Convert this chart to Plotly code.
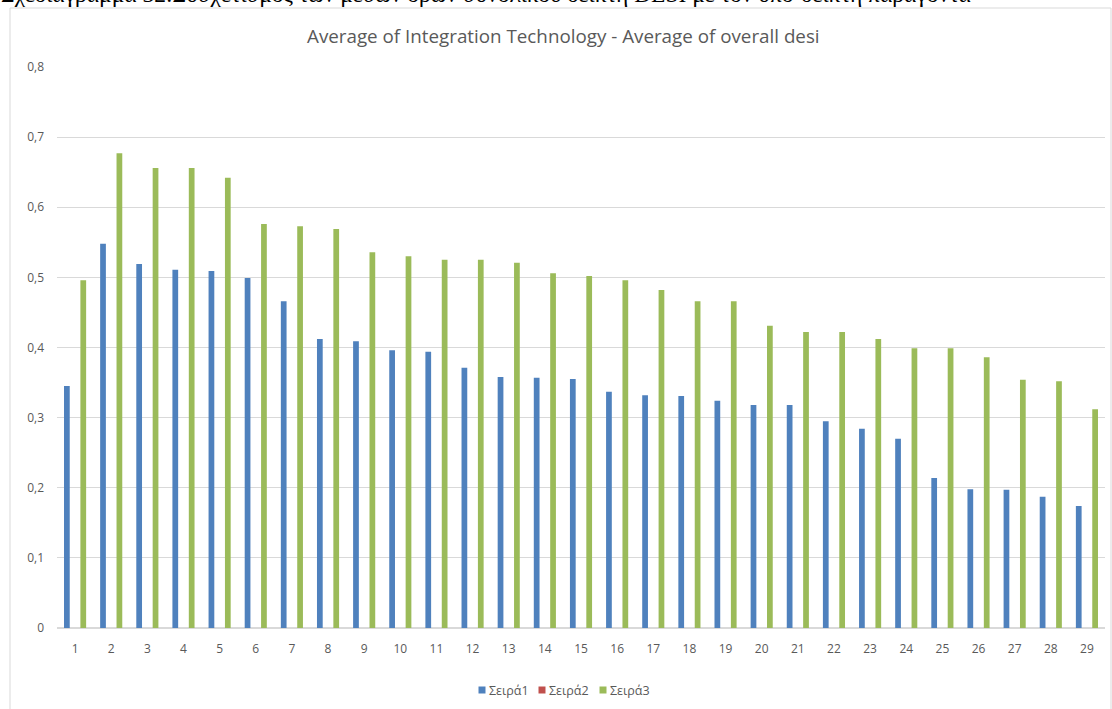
import plotly.graph_objects as go

categories = [str(i) for i in range(1, 30)]
series1 = [0.345, 0.548, 0.519, 0.511, 0.509, 0.499, 0.466, 0.412, 0.409, 0.396,
           0.394, 0.371, 0.358, 0.357, 0.355, 0.337, 0.332, 0.331, 0.324, 0.318,
           0.318, 0.295, 0.284, 0.270, 0.214, 0.198, 0.197, 0.187, 0.174]
series2 = [0] * 29
series3 = [0.496, 0.677, 0.656, 0.656, 0.642, 0.576, 0.573, 0.569, 0.536, 0.530,
           0.525, 0.525, 0.521, 0.506, 0.502, 0.496, 0.482, 0.466, 0.466, 0.431,
           0.422, 0.422, 0.412, 0.399, 0.399, 0.386, 0.354, 0.352, 0.312]
series_names = ["Σειρά1", "Σειρά2", "Σειρά3"]
series_colors = ["#4F81BD", "#C0504D", "#9BBB59"]
y_ticks = [0, 0.1, 0.2, 0.3, 0.4, 0.5, 0.6, 0.7, 0.8]
y_tick_text = ["0", "0,1", "0,2", "0,3", "0,4", "0,5", "0,6", "0,7", "0,8"]

title = "Average of Integration Technology - Average of overall desi"
caption = ("Σχεδιάγραμμα 32:Συσχετισμός των μέσων όρων συνολικού δείκτη DESI "
           "με τον υπο-δείκτη παράγοντα")

fig = go.Figure()
for name, vals, color in zip(series_names, [series1, series2, series3], series_colors):
    fig.add_trace(go.Bar(x=categories, y=vals, name=name, showlegend=False,
                         marker=dict(color=color, line=dict(width=0))))

W, H = 1112, 709
L, R, T, B = 57, 7, 67, 81
pw, ph = W - L - R, H - T - B

def px_x(p):
    return (p - L) / pw

def px_y(p):
    return (H - B - p) / ph

# chart frame
shapes = [dict(type="rect", xref="paper", yref="paper",
               x0=px_x(10), x1=px_x(1111), y0=px_y(715), y1=px_y(8),
               line=dict(color="#D9D9D9", width=1), fillcolor="rgba(0,0,0,0)",
               layer="below")]

annotations = [
    dict(text=title, xref="paper", yref="paper", x=px_x(563), y=px_y(36),
         xanchor="center", yanchor="middle", showarrow=False,
         font=dict(size=18.8, color="#595959",
                   family="Open Sans, Liberation Sans, sans-serif")),
    dict(text=caption, xref="paper", yref="paper", x=px_x(-1), y=px_y(9),
         xanchor="left", yanchor="bottom", showarrow=False,
         font=dict(size=23.5, color="black", family="Liberation Serif, serif")),
]

# bottom legend: small square swatch followed by the series name
legend_x = [482, 542, 603]
legend_y = 690
for lx, name, color in zip(legend_x, series_names, series_colors):
    shapes.append(dict(type="rect", xref="paper", yref="paper",
                       x0=px_x(lx - 3.5), x1=px_x(lx + 3.5),
                       y0=px_y(legend_y + 3.5), y1=px_y(legend_y - 3.5),
                       line=dict(width=0), fillcolor=color))
    annotations.append(dict(text=name, xref="paper", yref="paper",
                            x=px_x(lx + 5), y=px_y(legend_y), xanchor="left",
                            yanchor="middle", showarrow=False,
                            font=dict(size=12.5, color="#595959",
                                      family="Open Sans, Liberation Sans, sans-serif")))

fig.update_layout(
    width=W, height=H,
    margin=dict(l=L, r=R, t=T, b=B),
    paper_bgcolor="white", plot_bgcolor="white",
    barmode="group", bargap=0.32, bargroupgap=0.3,
    font=dict(family="Open Sans, Liberation Sans, sans-serif", color="#595959", size=12),
    showlegend=False,
    xaxis=dict(showgrid=False, showline=True, linecolor="#D9D9D9", linewidth=1,
               ticks="", tickfont=dict(size=12, color="#595959"),
               ticklabelstandoff=10),
    yaxis=dict(range=[0, 0.8], tickvals=y_ticks, ticktext=y_tick_text,
               showgrid=True, gridcolor="#D9D9D9", gridwidth=1,
               zeroline=True, zerolinecolor="#D9D9D9", showline=False,
               ticks="", tickfont=dict(size=12, color="#595959"),
               ticklabelstandoff=12),
    shapes=shapes,
    annotations=annotations,
)

fig.write_html("out.html")
